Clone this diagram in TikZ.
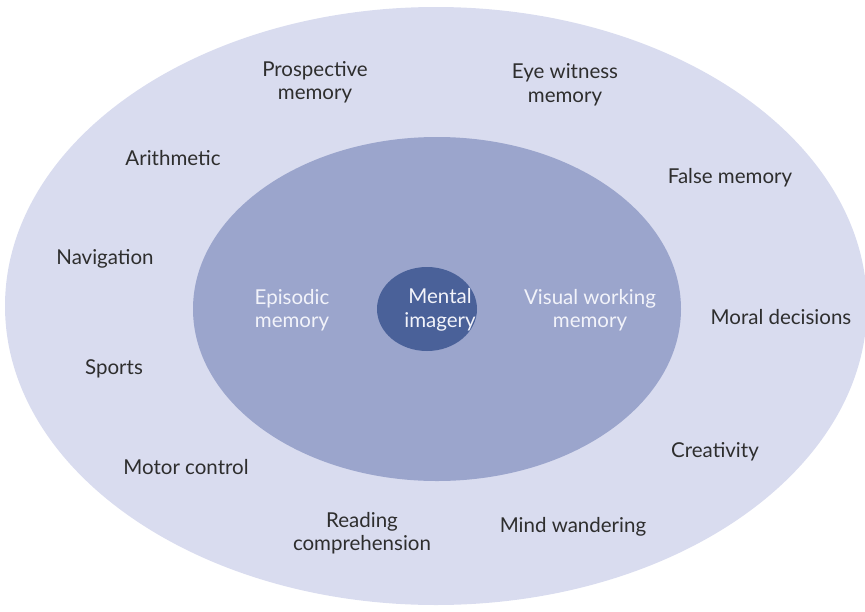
\documentclass[tikz,border=0pt]{standalone}
\usepackage{fontspec}
\setmainfont{Lato}
\definecolor{outerc}{HTML}{D9DCEF}
\definecolor{innerc}{HTML}{9BA5CC}
\definecolor{corec}{HTML}{4A6199}
\definecolor{txtc}{HTML}{2E2E2E}
\definecolor{lightt}{HTML}{F2F3FA}
\begin{document}
\begin{tikzpicture}[x=1pt,y=-1pt,
  lbl/.style={text=txtc,align=center,font=\fontsize{20.5}{23.5}\selectfont,inner sep=0pt},
  ilbl/.style={text=lightt,align=center,font=\fontsize{20.5}{23.5}\selectfont,inner sep=0pt}]
\useasboundingbox (0,0) rectangle (865,611);
\fill[outerc] (436,306) ellipse [x radius=431, y radius=299];
\fill[innerc] (437,309) ellipse [x radius=244, y radius=172];
\fill[corec] (427,309) ellipse [x radius=50, y radius=42];
\node[ilbl] (core) at (440,310) {Mental\\imagery};
\node[ilbl] (epi) at (292,310) {Episodic\\memory};
\node[ilbl] (vwm) at (590,310) {Visual working\\memory};
\node[lbl] (pro) at (315,82) {Prospective\\memory};
\node[lbl] (eye) at (565,85) {Eye witness\\memory};
\node[lbl] (ari) at (173,158) {Arithmetic};
\node[lbl] (fal) at (730,178) {False memory};
\node[lbl] (nav) at (105,259) {Navigation};
\node[lbl] (mor) at (781,317) {Moral decisions};
\node[lbl] (spo) at (114,369) {Sports};
\node[lbl] (cre) at (715,452) {Creativity};
\node[lbl] (mot) at (186,467) {Motor control};
\node[lbl] (rea) at (362,533) {Reading\\comprehension};
\node[lbl] (min) at (573,527) {Mind wandering};
\end{tikzpicture}
\end{document}
